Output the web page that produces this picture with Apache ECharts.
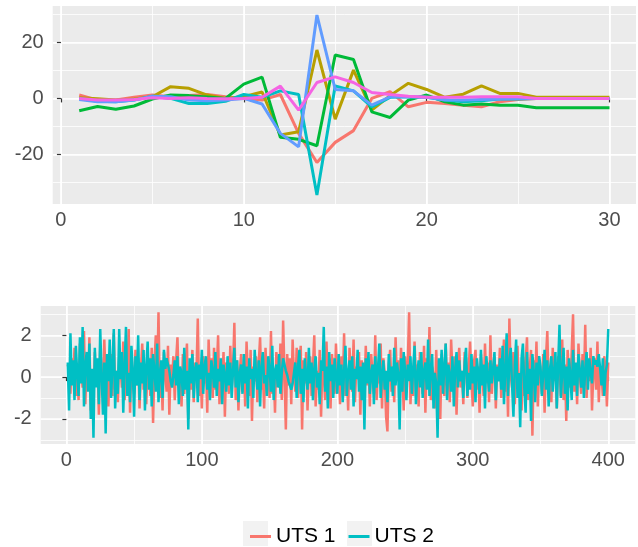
<!DOCTYPE html>
<html>
<head>
<meta charset="utf-8">
<script src="https://cdn.jsdelivr.net/npm/echarts@6/dist/echarts.min.js"></script>
<style>
  html, body { margin: 0; padding: 0; background: #fff; }
  #chart { width: 638px; height: 547px; }
</style>
</head>
<body>
<div id="chart"></div>
<script>
// top panel: 6 curves over lag 1..30
const lags = Array.from({ length: 30 }, (_, i) => i + 1);
const curveRed = [1.2, -0.6, -0.6, 0.4, 1.2, 0.6, 1.0, 1.4, 0.6, 0, -0.6, 1.4, -12.5, -22.9, -15.7, -11.5, 0, 2.4, -3, -1.4, -1.8, -2.4, -3, -1.2, -0.4, 0, 0, 0, 0, 0];
const curveOlive = [0.2, -0.1, -0.6, -0.2, 0.6, 4.2, 3.6, 1.2, 0, 0.6, 2.3, -13.1, -11.9, 17.3, -7.4, 10.1, -4.2, 1.0, 5.4, 3.2, 0.4, 1.5, 4.5, 1.8, 1.8, 0.4, 0.4, 0.4, 0.4, 0.4];
const curveGreen = [-4.4, -2.9, -3.9, -2.7, -0.2, 1.2, 1.0, 0.5, 0, 5.1, 7.6, -13.9, -14.6, -16.9, 15.5, 13.9, -4.8, -6.8, -0.6, 1.2, -1.2, -2.4, -2, -2.4, -2.4, -3.3, -3.3, -3.3, -3.3, -3.3];
const curveCyan = [0, -1, -1.2, -0.6, 0.8, 0, -1.8, -1.8, -1, 1.4, 0.4, 2.7, 1.4, -34.5, 4.5, 2.7, -3, 0.4, 0.6, 0.4, -0.6, -1.2, -0.8, -0.2, -0.2, 0, 0, 0, 0, 0];
const curveBlue = [-0.4, -1.2, -1.2, -0.6, 0.8, 0.6, -0.6, -0.8, -0.6, 0, -2, -12.5, -17.3, 29.8, 3.2, 2.7, -2.4, 0.6, 0.6, 0.4, -0.6, -0.6, -0.4, -0.2, 0, 0, 0, 0, 0, 0];
const curveMagenta = [0, -0.6, -0.6, -0.4, 0.2, 0, 0.2, 0, -0.1, 0, 0.4, 4.4, -4.2, 5.7, 7.7, 5.7, 2.1, 1.4, 0.8, 0.4, 0.4, 0.4, 0.6, 0.6, 0.6, 0, 0, 0, 0, 0];

// bottom panel: two series, t = 1..400
const uts1 = [
  0.6, 0.3, -0.8, 0.9, -0.2, 1.4, -0.9, 0.2, -1.1, 1.6, 0.4, -0.5, 2.2, -1.3, 0.8, -0.4, 1.9, -1.6, 0.1, -1.0,
  1.2, -0.3, 0.7, -1.8, 1.5, 0.2, -0.7, 1.8, -0.2, 0.9, -1.4, 0.5, 1.1, -0.9, 2.1, -0.6, 0.3, -1.2, 1.0, 0.4,
  -0.5, 1.7, -1.1, 0.6, -0.3, 2.3, -1.7, 0.8, 0.1, -0.8, 1.3, -0.4, 0.9, -1.5, 0.3, 1.6, -0.6, 0.2, -1.3, 1.1,
  0.5, -0.9, 1.4, -2.2, 0.7, 2.0, -0.3, 3.1, -1.0, 0.4, -1.6, 1.2, 0.2, -0.7, 1.5, -1.8, 0.6, -0.2, 1.0, -1.1,
  0.8, 1.9, -0.5, 0.3, -1.4, 1.1, -0.8, 0.5, 1.6, -2.0, 0.2, -0.6, 1.3, -1.2, 0.7, 0.1, 2.8, -0.9, 0.4, -1.5,
  1.0, -0.3, 0.6, -1.7, 1.8, -0.1, 0.9, -1.0, 1.4, -0.6, 0.3, 2.0, -1.3, 0.5, -0.4, 1.2, -1.9, 0.7, 0.2, -0.8,
  1.5, -0.5, 0.4, 2.6, -1.1, 0.8, -1.6, 0.3, 1.1, -0.7, 0.6, -1.4, 1.7, 0.1, -0.9, 1.3, -2.1, 0.5, -0.2, 1.0,
  -1.2, 0.7, 1.9, -0.6, 0.2, -1.5, 1.4, -0.3, 0.8, -1.0, 2.2, -0.8, 0.4, -1.7, 1.2, 0.3, -0.5, 1.6, -1.1, 2.7,
  0.2, -2.5, 1.1, -0.4, 0.9, -1.3, 1.8, 0.1, -0.7, 1.4, -1.0, 0.6, 1.5, -2.5, 0.8, -0.3, 1.2, -1.6, 0.4, 1.0,
  -0.9, 0.5, 2.0, -1.4, 0.3, -0.6, 1.3, -1.9, 0.7, 0.2, -1.1, 1.7, -0.4, 0.9, -1.5, 1.1, 0.4, -0.8, 1.6, -0.2,
  0.6, -1.3, 1.0, -0.5, 2.1, -0.9, 0.3, -1.6, 1.4, 0.2, -0.7, 1.8, -1.2, 0.5, -0.1, 1.2, -1.8, 0.8, 0.3, -1.0,
  1.5, -0.4, 0.7, -1.4, 1.1, 0.1, -0.8, 2.0, -1.1, 0.4, -0.3, 1.6, -1.5, 0.9, 0.2, -1.9, -2.6, 0.6, 1.3, -0.7,
  0.5, -1.2, 1.9, -0.2, 0.8, -1.0, 1.4, 0.3, -1.6, 1.0, -0.5, 0.7, 3.1, -1.3, 0.4, -0.9, 1.7, -0.1, 0.6, -1.4,
  1.2, 0.2, -0.8, 1.5, -1.7, 0.9, -0.3, 2.4, -1.1, 0.5, 0.1, -1.5, 1.3, -0.6, 0.8, -2.0, 1.1, 0.3, -0.9, 1.6,
  -0.4, 0.7, -1.2, 1.8, 0.2, -0.7, 1.0, -1.8, 0.6, 1.4, -0.5, 0.3, -1.3, 1.2, 0.9, -1.0, 0.4, 1.7, -0.2, -1.4,
  0.8, 1.3, -0.6, 0.5, -1.7, 1.1, 0.2, -0.9, 1.6, -0.3, 0.7, -1.2, 2.0, -0.8, 0.4, 1.0, -1.5, 0.6, -0.1, 1.4,
  -1.0, 0.3, 1.8, -0.7, 0.9, -1.9, 2.8, 0.1, -0.5, 1.2, -1.3, 0.6, 1.5, -0.4, 0.2, -1.6, 1.0, -0.9, 0.7, 1.9,
  -1.1, 0.4, 1.3, -2.8, 0.8, -0.3, 1.7, -1.4, 0.5, 0.2, -0.8, 1.1, -1.7, 0.9, 2.2, -0.6, 0.3, -1.2, 1.4, -0.2,
  0.7, -1.5, 1.0, 0.4, -0.9, 1.8, -1.1, 0.6, -2.1, 1.3, 0.2, -0.5, 1.2, 3.0, -0.7, 0.5, -1.3, 1.6, 0.1, -0.8,
  1.1, -0.4, 2.5, -1.0, 0.8, -0.2, 1.4, -1.6, 0.3, 0.9, -0.6, 1.7, -1.2, 0.5, 0.2, -0.9, 1.0, 0.4, -1.4, 0.7
];
const uts2 = [
  0.7, -1.6, 2.1, -0.4, 0.8, -1.1, 1.5, 0.2, -0.9, 1.9, -0.3, 2.4, -1.4, 0.6, 1.2, -0.7, 1.6, -2.0, 0.4, -2.9,
  1.4, -0.5, 0.9, -1.3, 2.3, 0.1, -1.8, 0.7, -2.7, 1.1, -0.2, 1.8, -1.0, 0.5, 2.3, -1.5, 0.3, -0.8, 2.3, -0.1,
  1.2, -1.7, 0.6, 2.4, -0.9, 0.2, -1.2, 1.5, 0.4, -1.9, 1.0, -0.4, 2.0, -1.1, 0.7, -0.3, 1.3, -1.6, 0.5, 1.7,
  -0.6, 0.9, -1.4, 1.1, 0.3, -0.7, 1.6, -1.2, 0.2, 0.8, -1.0, 1.3, 0.4, 0.9, 0.6, 0.3, -0.2, -0.5, 0.1, 0.8,
  -0.4, 1.0, -1.3, 0.5, 0.2, -0.9, 1.4, -0.6, 0.3, -2.5, 0.9, -0.3, 1.1, -1.0, 0.4, 0.7, -1.2, 0.6, -0.1, 1.3,
  -0.8, 0.5, 1.0, -0.6, 0.2, -1.1, 0.8, 0.3, -0.5, 1.2, -0.9, 0.4, -0.2, 0.9, -1.3, 0.6, 0.1, -0.7, 1.0, -0.4,
  0.7, -1.0, 0.3, 1.4, -0.5, 0.8, -1.2, 0.2, 0.6, -0.8, 1.1, -0.3, 0.5, -1.5, 0.9, -0.1, 0.4, -1.0, 1.3, 0.2,
  -0.6, 0.8, -1.4, 0.5, 1.2, -0.3, 0.1, -0.9, 1.0, 0.4, -0.7, 1.5, -1.1, 0.3, 0.6, -0.5, 1.1, -0.8, 0.2, 0.9,
  0.6, 0.3, 0.1, -0.2, -0.4, -0.6, -0.3, 0.2, 0.7, -1.0, 0.5, 1.3, -0.8, 0.4, -1.2, 0.9, 0.1, -0.6, 1.4, -0.3,
  0.7, -1.1, 0.4, 1.0, -0.5, 0.2, -1.3, 0.8, 0.3, 2.4, -0.7, 0.5, -1.5, 1.2, -0.2, 0.6, -1.0, 0.9, 0.1, -0.8,
  1.1, -0.4, 0.6, -1.2, 0.3, 1.5, -0.9, 0.2, 0.8, -0.6, 1.0, -1.4, 0.4, -0.1, 1.3, -0.7, 0.5, -1.1, 0.7, -2.5,
  0.9, -0.3, 1.2, -0.8, 0.2, 0.6, -1.3, 1.0, -0.5, 0.4, 1.6, -1.0, 0.1, 0.8, -0.6, 0.3, -1.2, 1.1, -0.2, 0.5,
  -0.9, 1.4, -0.4, 0.7, 0.2, -2.5, 0.9, -0.7, 1.2, 0.3, -1.1, 0.6, -0.2, 1.0, -0.8, 0.4, 1.5, -1.3, 0.1, 0.8,
  -0.5, 1.2, -1.0, 0.3, 0.7, -0.6, 1.8, -0.9, 0.4, 1.1, -1.5, 0.2, -0.3, -2.9, 0.9, -0.4, 1.3, -0.8, 0.5, 1.6,
  -1.1, 0.6, 0.1, -0.7, 1.0, -1.4, 0.4, 1.2, -0.5, 0.8, -0.2, 0.3, -1.0, 0.7, 1.4, -0.9, 0.2, -0.6, 1.1, -0.3,
  0.5, -1.2, 0.9, 0.2, -0.8, 1.3, -0.4, 0.6, -1.5, 1.0, 0.1, -0.7, 0.8, -0.3, 0.4, 1.2, -1.1, 0.5, -0.2, 0.9,
  -0.6, 1.5, -1.3, 0.3, 2.1, -0.9, 0.7, 1.4, -0.4, -1.9, 0.6, 1.8, -1.0, 0.2, -2.4, 0.9, 1.6, -0.5, -1.7, 1.2,
  -0.8, 0.4, -2.1, 1.1, 0.3, -1.2, 0.7, -0.4, 1.0, 0.5, -0.9, 0.2, 1.3, -0.6, 0.8, -1.4, 0.4, 1.0, -0.7, 0.3,
  1.2, -1.5, 0.6, 2.5, -1.0, 0.2, 1.4, -0.8, 0.5, -1.6, 0.9, 0.1, -1.1, 1.3, -0.4, 0.7, -0.9, 1.1, 0.3, -0.5,
  0.8, -1.0, 0.4, 1.2, -0.6, 0.9, 0.2, -0.3, 1.0, 0.6, 0.8, 0.5, 1.1, 0.4, -0.4, 0.9, -0.9, 0.2, 0.6, 2.3
];

const topColors = ["#F8766D", "#B79F00", "#00BA38", "#00BFC4", "#619CFF", "#F564E3"];
const topCurves = [curveRed, curveOlive, curveGreen, curveCyan, curveBlue, curveMagenta];

// ggplot style 5% padding on each side
function padded(lo, hi) {
  const d = (hi - lo) * 0.05;
  return [lo - d, hi + d];
}
const allTop = topCurves.flat();
const topX = padded(1, 30);
const topY = padded(Math.min(...allTop), Math.max(...allTop));
const botX = padded(1, uts1.length);
const botY = padded(Math.min(...uts1, ...uts2), Math.max(...uts1, ...uts2));

const labelStyle = { color: "#4D4D4D", fontSize: 20, fontFamily: "Liberation Sans, Arial, sans-serif" };

function majorAxis(ext, step, grid, isX) {
  return {
    type: "value",
    gridIndex: grid,
    min: ext[0],
    max: ext[1],
    minInterval: step,
    maxInterval: step,
    splitNumber: Math.round((ext[1] - ext[0]) / step),
    axisLine: { show: false },
    axisTick: { show: true, length: 4, lineStyle: { color: "#333333", width: 1.2 } },
    axisLabel: {
      ...labelStyle,
      margin: isX ? 6 : 9,
      showMinLabel: false,
      showMaxLabel: false,
      formatter: (v) => (Math.abs(v / step - Math.round(v / step)) < 1e-6 ? String(Math.round(v)) : ""),
    },
    splitLine: { show: true, showMinLine: false, showMaxLine: false, lineStyle: { color: "#FFFFFF", width: 1.7 } },
    z: 3,
  };
}

function minorAxis(ext, step, grid) {
  return {
    type: "value",
    gridIndex: grid,
    min: ext[0],
    max: ext[1],
    minInterval: step,
    maxInterval: step,
    splitNumber: Math.round((ext[1] - ext[0]) / step),
    axisLine: { show: false },
    axisTick: { show: false },
    axisLabel: { show: false },
    splitLine: { show: true, showMinLine: false, showMaxLine: false, lineStyle: { color: "#FFFFFF", width: 0.8 } },
    z: 2,
  };
}

const series = topCurves.map((d, i) => ({
  name: "curve " + (i + 1),
  type: "line",
  xAxisIndex: 0,
  yAxisIndex: 0,
  data: d.map((v, j) => [lags[j], v]),
  showSymbol: false,
  lineStyle: { color: topColors[i], width: 3 },
  itemStyle: { color: topColors[i] },
  z: 5,
}));
series.push(
  {
    name: "UTS 1",
    type: "line",
    xAxisIndex: 2,
    yAxisIndex: 2,
    data: uts1.map((v, j) => [j + 1, v]),
    showSymbol: false,
    lineStyle: { color: "#F8766D", width: 2.5 },
    itemStyle: { color: "#F8766D" },
    z: 5,
  },
  {
    name: "UTS 2",
    type: "line",
    xAxisIndex: 2,
    yAxisIndex: 2,
    data: uts2.map((v, j) => [j + 1, v]),
    showSymbol: false,
    lineStyle: { color: "#00BFC4", width: 2.5 },
    itemStyle: { color: "#00BFC4" },
    z: 6,
  }
);

const chart = echarts.init(document.getElementById("chart"), null, { renderer: "canvas" });
chart.setOption({
  animation: false,
  backgroundColor: "#FFFFFF",
  grid: [
    { left: 52.7, top: 6, right: 2, height: 198, show: true, backgroundColor: "#EBEBEB", borderWidth: 0 },
    { left: 40.7, top: 306, right: 2.7, height: 138, show: true, backgroundColor: "#EBEBEB", borderWidth: 0 },
  ],
  xAxis: [
    majorAxis(topX, 10, 0, true),
    minorAxis(topX, 5, 0),
    majorAxis(botX, 100, 1, true),
    minorAxis(botX, 50, 1),
  ],
  yAxis: [
    majorAxis(topY, 20, 0, false),
    minorAxis(topY, 10, 0),
    majorAxis(botY, 2, 1, false),
    minorAxis(botY, 1, 1),
  ],
  legend: {
    data: ["UTS 1", "UTS 2"],
    left: 245,
    top: 521,
    icon: "rect",
    itemWidth: 21,
    itemHeight: 3,
    itemGap: 13,
    textStyle: { color: "#000000", fontSize: 21, fontFamily: "Liberation Sans, Arial, sans-serif" },
  },
  graphic: [
    { type: "rect", left: 243, top: 521, shape: { width: 25, height: 25 }, style: { fill: "#F2F2F2" }, z: -1 },
    { type: "rect", left: 347, top: 521, shape: { width: 25, height: 25 }, style: { fill: "#F2F2F2" }, z: -1 },
  ],
  series: series,
});
</script>
</body>
</html>
